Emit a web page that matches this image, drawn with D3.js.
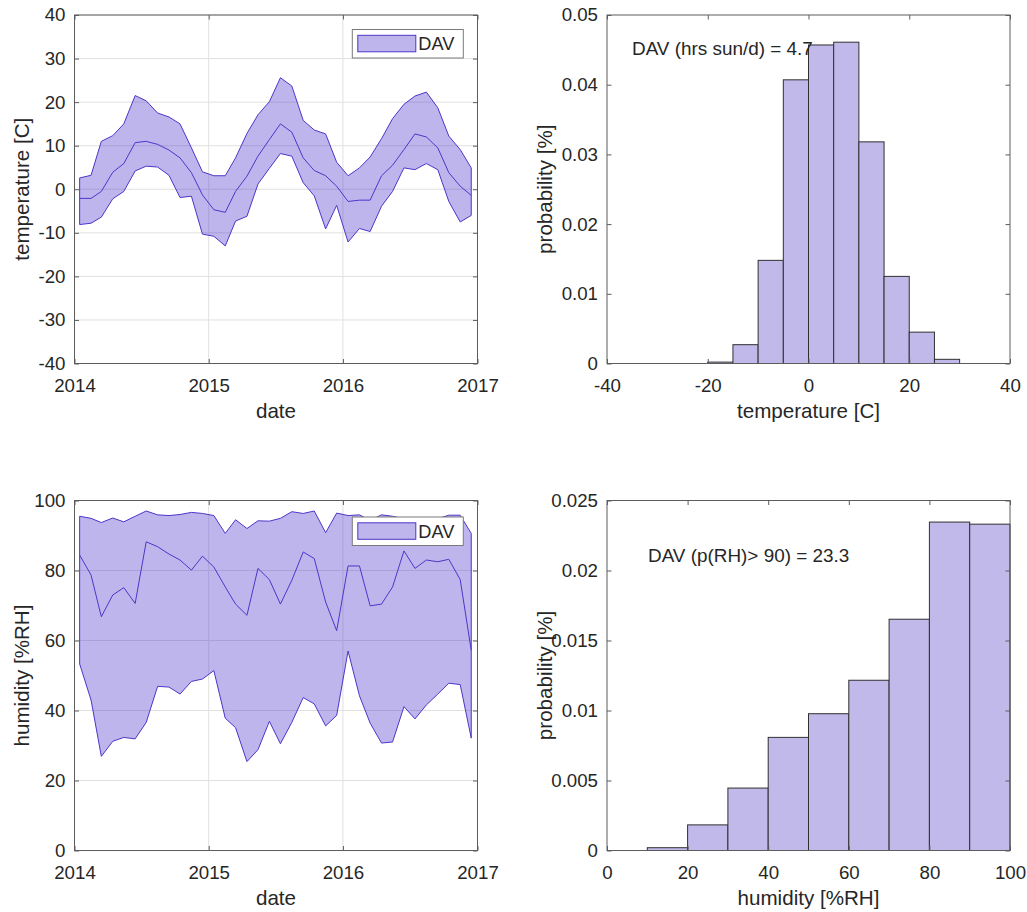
<!DOCTYPE html>
<html>
<head>
<meta charset="utf-8">
<script src="https://cdn.jsdelivr.net/npm/d3@7"></script>
<style>
  html, body { margin: 0; padding: 0; background: #fff; }
  svg { display: block; }
  text { font-family: "Liberation Sans", Arial, Helvetica, sans-serif; fill: #262626; }
</style>
</head>
<body>
<svg id="chart" width="1027" height="912"></svg>
<script>
// ---------- data ----------
const months = ["2014-01","2014-02","2014-03","2014-04","2014-05","2014-06","2014-07","2014-08","2014-09","2014-10","2014-11","2014-12",
                "2015-01","2015-02","2015-03","2015-04","2015-05","2015-06","2015-07","2015-08","2015-09","2015-10","2015-11","2015-12",
                "2016-01","2016-02","2016-03","2016-04","2016-05","2016-06","2016-07","2016-08","2016-09","2016-10","2016-11","2016-12"];

const tempMax  = [2.6,3.2,11.0,12.3,15.0,21.5,20.3,17.5,16.6,15.0,9.5,4.0,3.1,3.1,7.2,12.8,17.1,20.1,25.6,23.7,15.8,13.6,12.7,6.2,3.1,4.9,7.4,11.6,16.2,19.5,21.4,22.3,18.7,12.2,9.1,4.9];
const tempMean = [-2.1,-2.1,-0.5,3.9,5.9,10.7,11.0,10.3,9.0,7.2,3.8,-1.3,-4.7,-5.3,-0.5,3.0,7.6,11.4,15.0,13.1,7.2,4.3,3.1,0.7,-2.8,-2.5,-2.5,3.1,5.5,9.1,12.7,12.0,9.5,3.8,0.7,-1.4];
const tempMin  = [-8.1,-7.8,-6.4,-2.2,-0.5,4.2,5.3,5.1,3.2,-1.9,-1.6,-10.3,-10.8,-13.0,-7.3,-6.2,1.2,4.8,8.2,7.6,1.5,-1.5,-9.1,-3.7,-12.1,-9.0,-9.7,-3.9,-0.5,4.9,4.5,5.9,4.5,-2.8,-7.5,-6.0];

const humMax  = [95.5,94.9,93.7,95.0,93.9,95.5,97.0,95.9,95.7,96.0,96.6,96.3,95.7,90.6,94.5,92.0,94.2,94.1,94.9,96.8,96.3,97.0,90.8,96.4,95.7,95.9,94.3,95.9,95.5,94.8,94.9,94.6,94.8,95.8,95.8,90.6];
const humMean = [84.4,78.7,66.8,73.0,75.1,70.6,88.2,86.8,84.7,83.0,80.1,84.1,81.0,75.3,70.4,67.2,80.6,77.4,70.4,77.2,85.3,83.4,71.0,62.8,81.3,81.3,69.9,70.4,75.3,85.6,80.6,83.0,82.5,83.2,77.4,57.2];
const humMin  = [53.3,43.0,26.9,31.2,32.3,31.9,36.6,46.9,46.7,44.7,48.3,49.0,51.4,37.8,35.1,25.4,28.8,36.9,30.5,36.6,43.7,41.9,35.6,38.6,57.0,44.2,36.4,30.7,31.0,41.1,37.6,41.6,44.7,47.8,47.4,32.1];

const tempBinEdges = [-20,-15,-10,-5,0,5,10,15,20,25,30];
const tempProb     = [0.0002,0.0027,0.0148,0.0407,0.0457,0.0461,0.0318,0.0125,0.0045,0.0006];
const humBinEdges  = [10,20,30,40,50,60,70,80,90,100];
const humProb      = [0.0002,0.00183,0.00446,0.00808,0.00977,0.01216,0.01652,0.02346,0.02331];

const yearTicks   = ["2014","2015","2016","2017"];
const tempTicks   = [-40,-30,-20,-10,0,10,20,30,40];
const humTicks    = [0,20,40,60,80,100];
const tHistXTicks = [-40,-20,0,20,40];
const tHistYTicks = [0,0.01,0.02,0.03,0.04,0.05];
const hHistXTicks = [0,20,40,60,80,100];
const hHistYTicks = [0,0.005,0.01,0.015,0.02,0.025];

const legendLabel = "DAV";
const tempNote = "DAV (hrs sun/d) = 4.7";
const humNote  = "DAV (p(RH)> 90) = 23.3";

// ---------- styles ----------
const LINE = "#4b36c9";
const FILL = "#4d33cc";
const FILL_OP = 0.36;
const BAR = "#c0b9e9";
const AXIS = "#5c5c5c";
const GRID = "#e0e0e0";
const TICKFS = 18.7, LABFS = 20.6, LEGFS = 18.2, NOTEFS = 18.9;

const svg = d3.select("#chart");
const parseM = d3.timeParse("%Y-%m");
const dates = months.map(m => { const d = parseM(m); d.setDate(15); return d; });
const yearDates = yearTicks.map(y => new Date(+y, 0, 1));
const plainNum = d => String(d);   // hyphen-minus like the original

const L = {x0: 74.5, x1: 477.5}, R = {x0: 607, x1: 1010};
const T = {y0: 15, y1: 363.5}, B = {y0: 500.5, y1: 850.5};

function frame(g, x0, x1, y0, y1) {
  g.append("rect").attr("x", x0).attr("y", y0).attr("width", x1 - x0).attr("height", y1 - y0)
    .attr("fill", "none").attr("stroke", AXIS).attr("stroke-width", 1);
}

function grid(g, xs, ys, xTicks, yTicks, box) {
  const {x0, x1, y0, y1} = box;
  g.append("g").selectAll("line").data(xTicks).join("line")
    .attr("x1", d => xs(d)).attr("x2", d => xs(d)).attr("y1", y0).attr("y2", y1)
    .attr("stroke", GRID).attr("stroke-width", 1);
  g.append("g").selectAll("line").data(yTicks).join("line")
    .attr("y1", d => ys(d)).attr("y2", d => ys(d)).attr("x1", x0).attr("x2", x1)
    .attr("stroke", GRID).attr("stroke-width", 1);
}

function axesTop(g, xs, ys, xTicks, yTicks, xFmt, yFmt, box) {
  const {x0, x1, y0, y1} = box;
  const tl = 4.5;
  const ax = d3.axisBottom(xs).tickValues(xTicks).tickFormat(xFmt).tickSizeInner(-tl).tickSizeOuter(0).tickPadding(15.5);
  const gx = g.append("g").attr("transform", `translate(0,${y1})`).call(ax);
  gx.select(".domain").remove();
  gx.selectAll("line").attr("stroke", AXIS);
  gx.selectAll("text").attr("font-size", TICKFS).attr("fill", "#262626").style("font-family", "Liberation Sans, Arial, sans-serif");
  const gxt = g.append("g").attr("transform", `translate(0,${y0})`).call(d3.axisTop(xs).tickValues(xTicks).tickSizeInner(-tl).tickSizeOuter(0).tickFormat(""));
  gxt.select(".domain").remove(); gxt.selectAll("line").attr("stroke", AXIS);
  const ay = d3.axisLeft(ys).tickValues(yTicks).tickFormat(yFmt).tickSizeInner(-tl).tickSizeOuter(0).tickPadding(9);
  const gy = g.append("g").attr("transform", `translate(${x0},0)`).call(ay);
  gy.select(".domain").remove();
  gy.selectAll("line").attr("stroke", AXIS);
  gy.selectAll("text").attr("font-size", TICKFS).attr("fill", "#262626").style("font-family", "Liberation Sans, Arial, sans-serif");
  const gyr = g.append("g").attr("transform", `translate(${x1},0)`).call(d3.axisRight(ys).tickValues(yTicks).tickSizeInner(-tl).tickSizeOuter(0).tickFormat(""));
  gyr.select(".domain").remove(); gyr.selectAll("line").attr("stroke", AXIS);
  frame(g, x0, x1, y0, y1);
}

function labels(g, box, xl, yl, yx) {
  const {x0, x1, y0, y1} = box;
  g.append("text").attr("x", (x0 + x1) / 2).attr("y", y1 + 47).attr("dy", "0.35em")
    .attr("text-anchor", "middle").attr("font-size", LABFS).text(xl);
  g.append("text").attr("transform", `translate(${yx},${(y0 + y1) / 2}) rotate(-90)`).attr("dy", "0.35em")
    .attr("text-anchor", "middle").attr("font-size", LABFS).text(yl);
}

function legend(g, x, y) {
  g.append("rect").attr("x", x).attr("y", y).attr("width", 111).attr("height", 28.5)
    .attr("fill", "#fff").attr("stroke", "#7a7a7a").attr("stroke-width", 1);
  g.append("rect").attr("x", x + 5.5).attr("y", y + 5.8).attr("width", 58).attr("height", 16.5)
    .attr("fill", FILL).attr("fill-opacity", FILL_OP).attr("stroke", LINE).attr("stroke-width", 1);
  g.append("text").attr("x", x + 66).attr("y", y + 14.5).attr("dy", "0.35em")
    .attr("font-size", LEGFS).attr("fill", "#000").text(legendLabel);
}

function bandPanel(box, yDomain, yTicks, hi, mid, lo, xl, yl, legPos) {
  const g = svg.append("g");
  const xs = d3.scaleTime().domain([yearDates[0], yearDates[yearDates.length - 1]]).range([box.x0, box.x1]);
  const ys = d3.scaleLinear().domain(yDomain).range([box.y1, box.y0]);
  grid(g, xs, ys, yearDates, yTicks, box);
  const area = d3.area().x((d, i) => xs(dates[i])).y0((d, i) => ys(lo[i])).y1((d, i) => ys(hi[i]));
  g.append("path").datum(hi).attr("d", area)
    .attr("fill", FILL).attr("fill-opacity", FILL_OP).attr("stroke", "none");
  const poly = hi.map((v, i) => [xs(dates[i]), ys(v)]).concat(lo.map((v, i) => [xs(dates[i]), ys(v)]).reverse());
  g.append("path").attr("d", "M" + poly.join("L") + "Z")
    .attr("fill", "none").attr("stroke", LINE).attr("stroke-width", 1).attr("stroke-linejoin", "round");
  const line = d3.line().x((d, i) => xs(dates[i])).y(d => ys(d));
  g.append("path").datum(mid).attr("d", line).attr("fill", "none").attr("stroke", LINE).attr("stroke-width", 1);
  axesTop(g, xs, ys, yearDates, yTicks, d3.timeFormat("%Y"), plainNum, box);
  labels(g, box, xl, yl, 22);
  legend(g, legPos[0], legPos[1]);
}

function histPanel(box, xDomain, yDomain, xTicks, yTicks, edges, probs, yFmt, xl, note, notePos) {
  const g = svg.append("g");
  const xs = d3.scaleLinear().domain(xDomain).range([box.x0, box.x1]);
  const ys = d3.scaleLinear().domain(yDomain).range([box.y1, box.y0]);
  g.append("g").selectAll("rect").data(probs).join("rect")
    .attr("x", (d, i) => xs(edges[i])).attr("width", (d, i) => xs(edges[i + 1]) - xs(edges[i]))
    .attr("y", d => ys(d)).attr("height", d => ys(0) - ys(d))
    .attr("fill", BAR).attr("stroke", "#303030").attr("stroke-width", 1);
  axesTop(g, xs, ys, xTicks, yTicks, plainNum, yFmt, box);
  labels(g, box, xl, "probability [%]", 545);
  g.append("text").attr("x", notePos[0]).attr("y", notePos[1]).attr("dy", "0.35em")
    .attr("font-size", NOTEFS).attr("fill", "#000").text(note);
}

const yFmtT = d => d === 0 ? "0" : d3.format(".2f")(d);
const yFmtH = d => String(d);

bandPanel({x0: L.x0, x1: L.x1, y0: T.y0, y1: T.y1}, [-40, 40], tempTicks, tempMax, tempMean, tempMin,
          "date", "temperature [C]", [352.3, 29.5]);
bandPanel({x0: L.x0, x1: L.x1, y0: B.y0, y1: B.y1}, [0, 100], humTicks, humMax, humMean, humMin,
          "date", "humidity [%RH]", [352.3, 517]);
histPanel({x0: R.x0, x1: R.x1, y0: T.y0, y1: T.y1}, [-40, 40], [0, 0.05], tHistXTicks, tHistYTicks,
          tempBinEdges, tempProb, yFmtT, "temperature [C]", tempNote, [632, 48.5]);
histPanel({x0: R.x0, x1: R.x1, y0: B.y0, y1: B.y1}, [0, 100], [0, 0.025], hHistXTicks, hHistYTicks,
          humBinEdges, humProb, yFmtH, "humidity [%RH]", humNote, [648, 555]);
</script>
</body>
</html>
